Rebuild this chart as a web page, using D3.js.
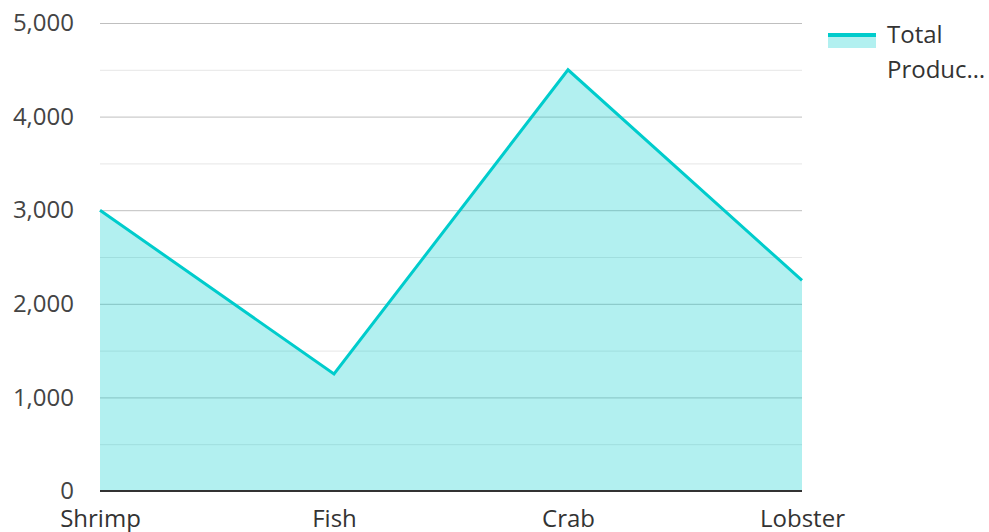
<!DOCTYPE html>
<html>
<head>
<meta charset="utf-8">
<script src="https://cdn.jsdelivr.net/npm/d3@7"></script>
<style>
  body { margin: 0; background: #fff; }
  text { font-family: "Open Sans", sans-serif; }
</style>
</head>
<body>
<svg id="chart" width="989" height="532"></svg>
<script>
const categories = ['Shrimp', 'Fish', 'Crab', 'Lobster']
const production = [3000, 1250, 4500, 2250]
const majorTicks = [0, 1000, 2000, 3000, 4000, 5000]
const minorTicks = [500, 1500, 2500, 3500, 4500]
const seriesName = 'Total Production'

const margin = {top: 23, right: 187, bottom: 41, left: 100}
const width = 989, height = 532
const chartWidth = width - margin.left - margin.right
const chartHeight = height - margin.top - margin.bottom

const svg = d3.select('#chart')
const g = svg.append('g').attr('transform', `translate(${margin.left},${margin.top})`)

const xScale = d3.scalePoint().domain(categories).range([0, chartWidth])
const yScale = d3.scaleLinear().domain([0, 5000]).range([chartHeight, 0])

const data = categories.map((c, i) => ({cat: c, v: production[i]}))

// gridlines
g.selectAll('.minor').data(minorTicks).enter().append('line')
    .attr('x1', 0).attr('x2', chartWidth)
    .attr('y1', d => yScale(d) + 0.5).attr('y2', d => yScale(d) + 0.5)
    .style('stroke', '#e6e6e6').style('stroke-width', 1)
g.selectAll('.major').data(majorTicks.slice(1)).enter().append('line')
    .attr('x1', 0).attr('x2', chartWidth)
    .attr('y1', d => yScale(d) + 0.5).attr('y2', d => yScale(d) + 0.5)
    .style('stroke', '#bfbfbf').style('stroke-width', 1)

// area + line
const area = d3.area()
    .x(d => xScale(d.cat))
    .y0(yScale(0))
    .y1(d => yScale(d.v))
const line = d3.line()
    .x(d => xScale(d.cat))
    .y(d => yScale(d.v))

g.append('path').datum(data)
    .attr('d', area)
    .style('fill', '#00cccc')
    .style('fill-opacity', 0.3)
g.append('path').datum(data)
    .attr('d', line)
    .style('fill', 'none')
    .style('stroke', '#00cccc')
    .style('stroke-width', 3)

// bottom axis line
g.append('line')
    .attr('x1', 0).attr('x2', chartWidth)
    .attr('y1', chartHeight).attr('y2', chartHeight)
    .style('stroke', '#333').style('stroke-width', 2)

// y labels
const yAxis = g.append('g').call(d3.axisLeft(yScale).tickValues(majorTicks).tickSize(0).tickPadding(26).tickFormat(d3.format(',')))
yAxis.select('.domain').remove()
yAxis.selectAll('text').style('font-size', '24px').style('fill', '#444')

// x labels
const xAxis = g.append('g').attr('transform', `translate(0,${chartHeight})`)
    .call(d3.axisBottom(xScale).tickSize(0).tickPadding(19))
xAxis.select('.domain').remove()
xAxis.selectAll('text').style('font-size', '24px').style('fill', '#333')

// legend
const legend = svg.append('g').attr('transform', 'translate(828,33)')
legend.append('rect').attr('x', 0).attr('y', 0).attr('width', 48).attr('height', 15)
    .style('fill', '#00cccc').style('fill-opacity', 0.3)
legend.append('rect').attr('x', 0).attr('y', 0).attr('width', 48).attr('height', 4)
    .style('fill', '#00cccc')
legend.append('text').attr('x', 59).attr('y', 2).attr('dy', '0.35em')
    .style('font-size', '24px').style('fill', '#333').text('Total')
legend.append('text').attr('x', 59).attr('y', 37).attr('dy', '0.35em')
    .style('font-size', '24px').style('fill', '#333').text('Produc…')
  .append('title').text(seriesName)
</script>
</body>
</html>
